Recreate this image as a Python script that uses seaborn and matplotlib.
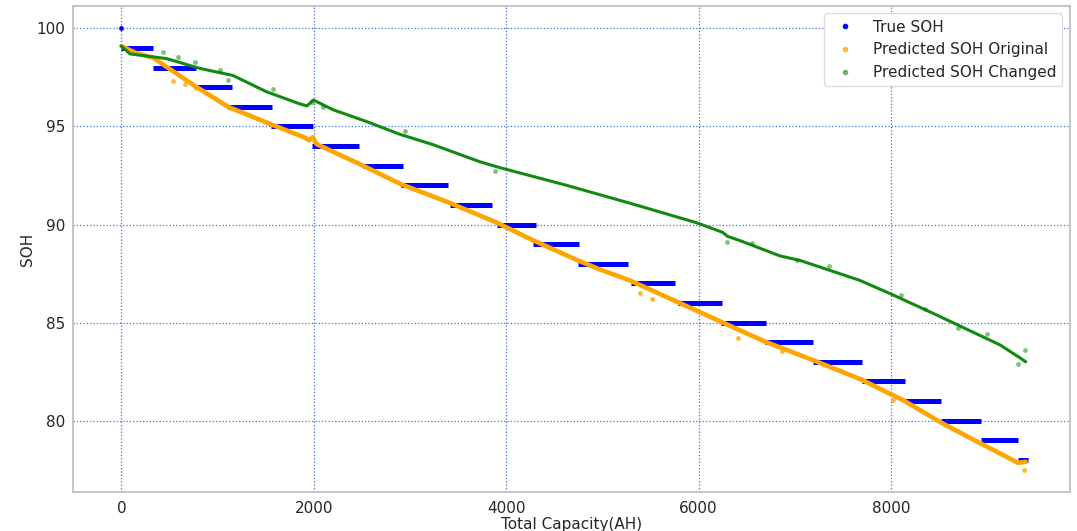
import numpy as np
import pandas as pd
import matplotlib.pyplot as plt
import seaborn as sns
from matplotlib.lines import Line2D

# Datos
# True SOH: escalones horizontales (nivel, inicio, fin en AH)
true_level = [99, 98, 97, 96, 95, 94, 93, 92, 91, 90, 89,
              88, 87, 86, 85, 84, 83, 82, 81, 80, 79, 78]
true_start = [0, 330, 785, 1110, 1560, 1980, 2510, 2905, 3415, 3900, 4280,
              4750, 5300, 5785, 6235, 6695, 7190, 7695, 8150, 8520, 8935, 9320]
true_end = [330, 775, 1145, 1570, 1995, 2470, 2925, 3390, 3855, 4305, 4760,
            5268, 5753, 6239, 6696, 7191, 7694, 8150, 8520, 8935, 9320, 9420]
true_first_x = [0]
true_first_y = [100]

# Predicted SOH Original
orig_x = [0, 150, 330, 785, 1110, 1560, 1900, 1950, 1990, 2030, 2470, 2905,
          3415, 3900, 4278, 4750, 4979, 5286, 5780, 6229, 6690, 7181, 7694,
          7954, 8121, 8520, 8935, 9320, 9400]
orig_y = [99.1, 98.75, 98.5, 97.0, 96.0, 95.1, 94.45, 94.3, 94.45, 94.1, 93.1, 92.06,
          91.1, 90.1, 89.2, 88.16, 87.7, 87.15, 86.05, 85.05, 84.03, 83.1, 82.09,
          81.45, 81.06, 79.9, 78.83, 77.85, 77.9]
orig_out_x = [539, 665, 781, 5392, 5511, 6411, 6863, 8023, 9380]
orig_out_y = [97.31, 97.16, 96.94, 86.53, 86.2, 84.2, 83.57, 81.03, 77.5]

# Predicted SOH Changed
chg_x = [0, 90, 470, 816, 1160, 1509, 1855, 1930, 1995, 2202, 2549, 2895,
         3241, 3727, 3934, 4627, 5320, 5979, 6250, 6300, 6430, 6846, 7054,
         7677, 7989, 8438, 9133, 9341, 9400]
chg_y = [99.1, 98.7, 98.46, 97.96, 97.6, 96.77, 96.15, 96.05, 96.35, 95.85, 95.25, 94.6,
         94.07, 93.2, 92.9, 92.0, 91.04, 90.09, 89.6, 89.4, 89.18, 88.4, 88.17,
         87.15, 86.48, 85.47, 83.86, 83.2, 83.0]
chg_out_x = [435, 590, 764, 1024, 1110, 1578, 1977, 2100, 2950, 3880, 6300, 6550,
             7020, 7350, 8100, 8350, 8700, 9000, 9320, 9390]
chg_out_y = [98.8, 98.54, 98.29, 97.87, 97.36, 96.89, 96.26, 96.0, 94.75, 92.75, 89.1, 89.05,
             88.2, 87.9, 86.4, 85.7, 84.7, 84.4, 82.9, 83.6]

df_orig = pd.DataFrame({'cap': orig_x, 'soh': orig_y})
df_chg = pd.DataFrame({'cap': chg_x, 'soh': chg_y})

sns.set_style('white')
plt.rcParams['font.family'] = ['DejaVu Sans']

fig, ax = plt.subplots(figsize=(10.77, 5.31), dpi=100)
fig.subplots_adjust(left=0.068, right=0.9935, top=0.989, bottom=0.073)

# True SOH
ax.hlines(true_level, true_start, true_end, color='blue', linewidth=3.6, zorder=3)
sns.scatterplot(x=true_first_x, y=true_first_y, color='blue', s=12, linewidth=0, ax=ax, zorder=3)

# Predicted SOH Original
sns.lineplot(data=df_orig, x='cap', y='soh', color='orange', linewidth=3.3,
             sort=False, ax=ax, zorder=4)
sns.scatterplot(x=orig_out_x, y=orig_out_y, color='orange', s=12, linewidth=0,
                alpha=0.8, ax=ax, zorder=4)

# Predicted SOH Changed
sns.lineplot(data=df_chg, x='cap', y='soh', color='#128a12', linewidth=2.2,
             sort=False, ax=ax, zorder=5)
sns.scatterplot(x=chg_out_x, y=chg_out_y, color='green', s=12, linewidth=0,
                alpha=0.5, ax=ax, zorder=5)

ax.set_xlim(-500, 9860)
ax.set_ylim(76.35, 101.15)
ax.set_xticks([0, 2000, 4000, 6000, 8000])
ax.set_yticks([80, 85, 90, 95, 100])
ax.tick_params(labelsize=11, length=3, color='#b0b0b0', pad=3)
ax.set_xlabel('Total Capacity(AH)', fontsize=11, labelpad=1)
ax.set_ylabel('SOH', fontsize=11, labelpad=1)
ax.grid(True, color='#3d72e6', linestyle=':', linewidth=0.9)
for sp in ax.spines.values():
    sp.set_color('#c0c0c0')
    sp.set_linewidth(1.3)

handles = [
    Line2D([], [], marker='o', linestyle='', color='blue', markersize=3),
    Line2D([], [], marker='o', linestyle='', color='orange', markersize=3, alpha=0.7),
    Line2D([], [], marker='o', linestyle='', color='green', markersize=3, alpha=0.5),
]
labels = ['True SOH', 'Predicted SOH Original', 'Predicted SOH Changed']
ax.legend(handles, labels, loc='upper right', fontsize=11, frameon=True,
          edgecolor='#dddddd', framealpha=1, borderaxespad=0.5, handletextpad=0.8)

plt.savefig('out.png', dpi=100)
